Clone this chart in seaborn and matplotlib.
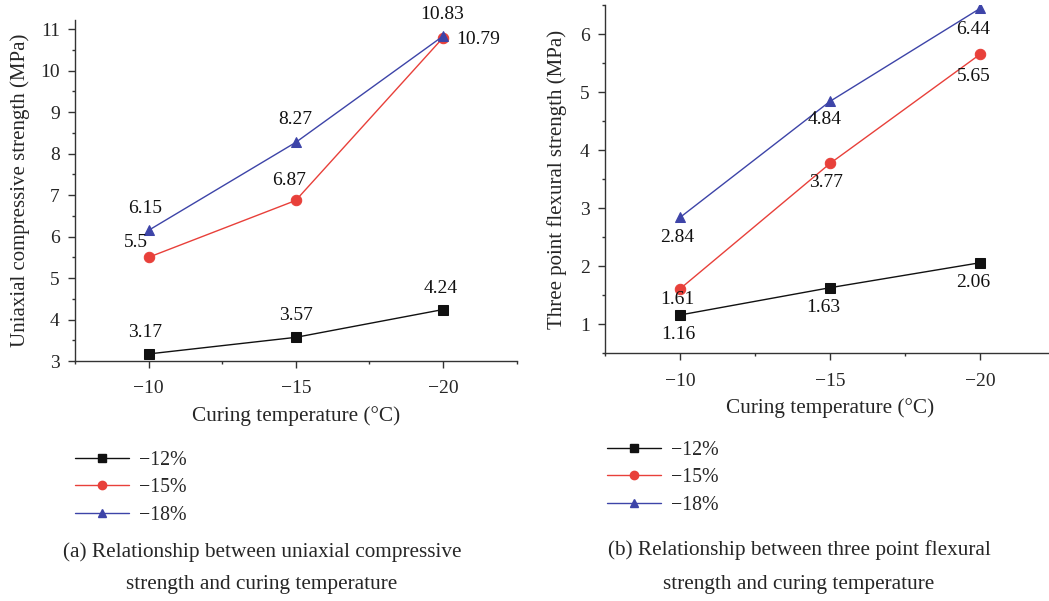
#!/usr/bin/env python3
"""
Strength vs curing temperature, two panels:
  (a) uniaxial compressive strength
  (b) three point flexural strength
Saves out.png.
"""
import matplotlib
matplotlib.use("Agg")
import matplotlib.pyplot as plt
from matplotlib.lines import Line2D
from matplotlib.ticker import MultipleLocator
import pandas as pd
import seaborn as sns

# --- data ---
TEMPS = [-10, -15, -20]
SERIES = ["\u221212%", "\u221215%", "\u221218%"]

UCS_12 = [3.17, 3.57, 4.24]
UCS_15 = [5.5, 6.87, 10.79]
UCS_18 = [6.15, 8.27, 10.83]

FLEX_12 = [1.16, 1.63, 2.06]
FLEX_15 = [1.61, 3.77, 5.65]
FLEX_18 = [2.84, 4.84, 6.44]

# label offsets (pixels) for the value annotations, per series / point
UCS_OFFSETS = [
    [(-3, 21), (0, 22), (-2, 21)],
    [(-13, 15), (-7, 20), (35, -2)],
    [(-3, 22), (0, 23), (-1, 22)],
]
FLEX_OFFSETS = [
    [(-2, -20), (-7, -20), (-7, -20)],
    [(-3, -11), (-4, -19), (-6, -22)],
    [(-3, -20), (-5, -18), (-7, -21)],
]

COLORS = ["#111111", "#e8403a", "#3d44a8"]
MARKERS = ["s", "o", "^"]

NUM_FS = 14      # tick labels and value labels
TXT_FS = 15.3    # axis labels, legend, captions

sns.set_style("ticks")
plt.rcParams["font.family"] = ["Liberation Serif", "DejaVu Serif"]
plt.rcParams["font.size"] = NUM_FS
plt.rcParams["axes.linewidth"] = 1.0


def long_frame(a, b, c):
    rows = []
    for name, vals in zip(SERIES, [a, b, c]):
        for t, v in zip(TEMPS, vals):
            rows.append({"temp": t, "value": v, "series": name})
    return pd.DataFrame(rows)


def draw_panel(ax, df, offsets, ylim, ylabel, labelpad):
    for i, name in enumerate(SERIES):
        sub = df[df["series"] == name]
        sns.lineplot(
            data=sub, x="temp", y="value", ax=ax,
            color=COLORS[i], marker=MARKERS[i], markersize=7.5,
            markeredgecolor=COLORS[i], linewidth=1.0, legend=False,
        )
        for (t, v), (dx, dy) in zip(zip(sub["temp"], sub["value"]), offsets[i]):
            ax.annotate(
                f"{v:g}", (t, v), xytext=(dx, dy), textcoords="offset pixels",
                ha="center", va="center", fontsize=NUM_FS, color="#111111",
            )

    ax.set_xlim(-7.5, -22.5)
    ax.set_ylim(*ylim)
    ax.set_xticks(TEMPS)
    ax.set_xticklabels([f"\u2212{abs(t)}" for t in TEMPS])
    ax.xaxis.set_minor_locator(MultipleLocator(2.5))
    ax.yaxis.set_major_locator(MultipleLocator(1))
    ax.yaxis.set_minor_locator(MultipleLocator(0.5))
    ax.tick_params(which="major", direction="out", length=5, width=1,
                   labelsize=NUM_FS, color="#333333")
    ax.tick_params(axis="y", which="major", pad=6)
    ax.tick_params(axis="x", which="major", pad=9)
    ax.tick_params(which="minor", direction="out", length=2.5, width=1,
                   color="#333333")
    ax.set_xlabel("Curing temperature (\u00b0C)", fontsize=TXT_FS, labelpad=6)
    ax.set_ylabel(ylabel, fontsize=15, labelpad=labelpad)
    for side in ("top", "right"):
        ax.spines[side].set_visible(False)
    for side in ("left", "bottom"):
        ax.spines[side].set_color("#333333")


W, H = 1049, 601
fig = plt.figure(figsize=(W / 100, H / 100), dpi=100)

ax_a = fig.add_axes([75 / W, (H - 361) / H, 441.5 / W, 341 / H])
ax_b = fig.add_axes([605 / W, (H - 353.3) / H, 450 / W, 348.3 / H])

draw_panel(ax_a, long_frame(UCS_12, UCS_15, UCS_18), UCS_OFFSETS,
           (3, 11.22), "Uniaxial compressive strength (MPa)", 7)
draw_panel(ax_b, long_frame(FLEX_12, FLEX_15, FLEX_18), FLEX_OFFSETS,
           (0.5, 6.5), "Three point flexural strength (MPa)", 9)

handles = [
    Line2D([], [], color=c, marker=m, markersize=6, markeredgecolor=c, linewidth=1.0)
    for c, m in zip(COLORS, MARKERS)
]
for ax, (lx, ly) in [(ax_a, (67, 443)), (ax_b, (599, 433))]:
    ax.legend(
        handles, SERIES, loc="upper left",
        bbox_to_anchor=(lx / W, 1 - ly / H), bbox_transform=fig.transFigure,
        frameon=False, fontsize=TXT_FS - 1, handlelength=2.7, handletextpad=0.5,
        labelspacing=0.42, borderaxespad=0,
    )

fig.text(262 / W, 1 - 551.7 / H,
         "(a) Relationship between uniaxial compressive",
         ha="center", va="center", fontsize=TXT_FS)
fig.text(262 / W, 1 - 585 / H, "strength and curing temperature",
         ha="center", va="center", fontsize=TXT_FS)
fig.text(799 / W, 1 - 550 / H,
         "(b) Relationship between three point flexural",
         ha="center", va="center", fontsize=TXT_FS)
fig.text(799 / W, 1 - 585 / H, "strength and curing temperature",
         ha="center", va="center", fontsize=TXT_FS)

fig.savefig("out.png", dpi=100)
plt.close(fig)
